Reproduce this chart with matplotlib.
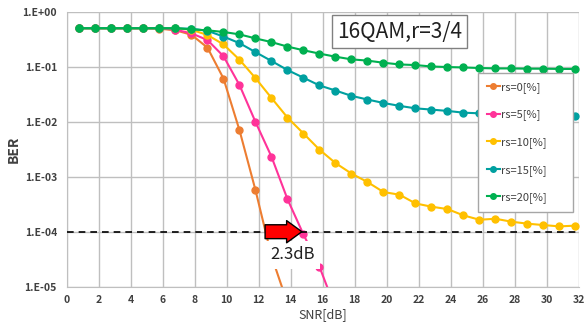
import matplotlib
matplotlib.use('Agg')
import matplotlib.pyplot as plt

plt.rcParams['font.family'] = ['Noto Sans CJK JP', 'DejaVu Sans']

# SNR points of each curve
snr = [0.8, 1.8, 2.8, 3.8, 4.8, 5.8, 6.8, 7.8, 8.8, 9.8, 10.8, 11.8, 12.8, 13.8, 14.8, 15.8,
       16.8, 17.8, 18.8, 19.8, 20.8, 21.8, 22.8, 23.8, 24.8, 25.8, 26.8, 27.8, 28.8, 29.8, 30.8, 31.8]

ber_rs0 = [0.5, 0.5, 0.5, 0.5, 0.5, 0.49, 0.46, 0.38, 0.222, 0.061, 0.0070, 5.7e-4, 3.6e-5, 5e-6]
ber_rs5 = [0.5, 0.5, 0.5, 0.5, 0.5, 0.5, 0.47, 0.404, 0.305, 0.155, 0.0464, 0.0099, 0.00231,
           3.9e-4, 8.9e-5, 2.3e-5, 4e-6]
ber_rs10 = [0.5, 0.5, 0.5, 0.5, 0.5, 0.5, 0.5, 0.47, 0.377, 0.254, 0.134, 0.062, 0.027, 0.0119,
            0.0061, 0.0031, 0.00177, 0.00114, 0.0008, 0.000526, 0.000471, 0.000327, 0.000285,
            0.000258, 0.000198, 0.000165, 0.000172, 0.000152, 0.00014, 0.000132, 0.000125, 0.000129]
ber_rs15 = [0.5, 0.5, 0.5, 0.5, 0.5, 0.5, 0.5, 0.49, 0.45, 0.353, 0.268, 0.184, 0.127, 0.087,
            0.063, 0.0456, 0.0369, 0.0295, 0.0253, 0.0219, 0.0194, 0.0175, 0.0166, 0.0157,
            0.0146, 0.0142, 0.0138, 0.0134, 0.0131, 0.0128, 0.0127, 0.0125]
ber_rs20 = [0.5, 0.5, 0.5, 0.5, 0.5, 0.5, 0.5, 0.478, 0.458, 0.428, 0.387, 0.327, 0.28, 0.232,
            0.199, 0.173, 0.152, 0.136, 0.129, 0.118, 0.110, 0.107, 0.101, 0.0986, 0.097,
            0.0946, 0.093, 0.093, 0.092, 0.092, 0.091, 0.091]

labels = ['rs=0[%]', 'rs=5[%]', 'rs=10[%]', 'rs=15[%]', 'rs=20[%]']
colors = ['#ED7D31', '#FF3399', '#FFC000', '#00A0A0', '#00B050']

xticks = [0, 2, 4, 6, 8, 10, 12, 14, 16, 18, 20, 22, 24, 26, 28, 30, 32]
yticks = [1, 1e-1, 1e-2, 1e-3, 1e-4, 1e-5]
ytick_labels = ['1.E+00', '1.E-01', '1.E-02', '1.E-03', '1.E-04', '1.E-05']

target_ber = 1e-4
gain_text = '2.3dB'

fig = plt.figure(figsize=(5.84, 3.25), dpi=100)
ax = fig.add_axes([0.1142, 0.1178, 0.8767, 0.8462])

all_ber = [ber_rs0, ber_rs5, ber_rs10, ber_rs15, ber_rs20]
for ber, lab, col in zip(all_ber, labels, colors):
    ax.plot(snr[:len(ber)], ber, '-o', color=col, lw=1.5, ms=5, label=lab, clip_on=True)

ax.set_yscale('log')
ax.set_xlim(0, 32)
ax.set_ylim(1e-5, 1)
ax.set_xticks(xticks)
ax.set_xticklabels([str(t) for t in xticks], fontsize=7.5, fontweight='bold', color='#404040')
ax.set_yticks(yticks)
ax.set_yticklabels(ytick_labels, fontsize=7.5, fontweight='bold', color='#404040')
ax.minorticks_off()
ax.tick_params(axis='y', length=0, pad=7)
ax.tick_params(axis='x', length=0, pad=6)
ax.grid(True, color='#BFBFBF', lw=1)
ax.set_axisbelow(True)
for s in ['top', 'right']:
    ax.spines[s].set_visible(False)
for s in ['left', 'bottom']:
    ax.spines[s].set_color('#BFBFBF')

ax.axhline(target_ber, color='black', lw=1.2, ls=(0, (4, 3)), zorder=3)

ax.set_xlabel('SNR[dB]', fontsize=9, color='#404040', labelpad=2)
ax.set_ylabel('BER', fontsize=10, fontweight='bold', color='#404040', labelpad=1)
ax.yaxis.set_label_coords(-0.09, 0.5)

# red arrow showing the gain
ax.annotate('', xy=(14.7, target_ber), xytext=(12.4, target_ber),
            arrowprops=dict(arrowstyle='simple,head_length=0.55,head_width=0.8,tail_width=0.5',
                            fc='red', ec='black', lw=1, mutation_scale=20,
                            shrinkA=0, shrinkB=0), zorder=6)
ax.text(14.1, 3.8e-5, gain_text, fontsize=12, ha='center', va='center', color='#202020',
        bbox=dict(fc='white', ec='none', pad=4), zorder=5)

ax.text(0.65, 0.928, '16QAM,r=3/4', transform=ax.transAxes, fontsize=15, ha='center',
        va='center', color='#202020',
        bbox=dict(fc='white', ec='#808080', lw=1, boxstyle='square,pad=0.25'), zorder=7)

leg = ax.legend(loc='upper left', bbox_to_anchor=(0.803, 0.261, 0.186, 0.516), mode='expand',
                fontsize=8, frameon=True, fancybox=False, framealpha=1, edgecolor='#A6A6A6',
                labelspacing=1.5, borderpad=0.8, handlelength=1.2, handletextpad=0.1,
                borderaxespad=0, markerscale=0.8)
leg.set_zorder(8)
for t in leg.get_texts():
    t.set_color('#404040')

fig.savefig('out.png', dpi=100)
